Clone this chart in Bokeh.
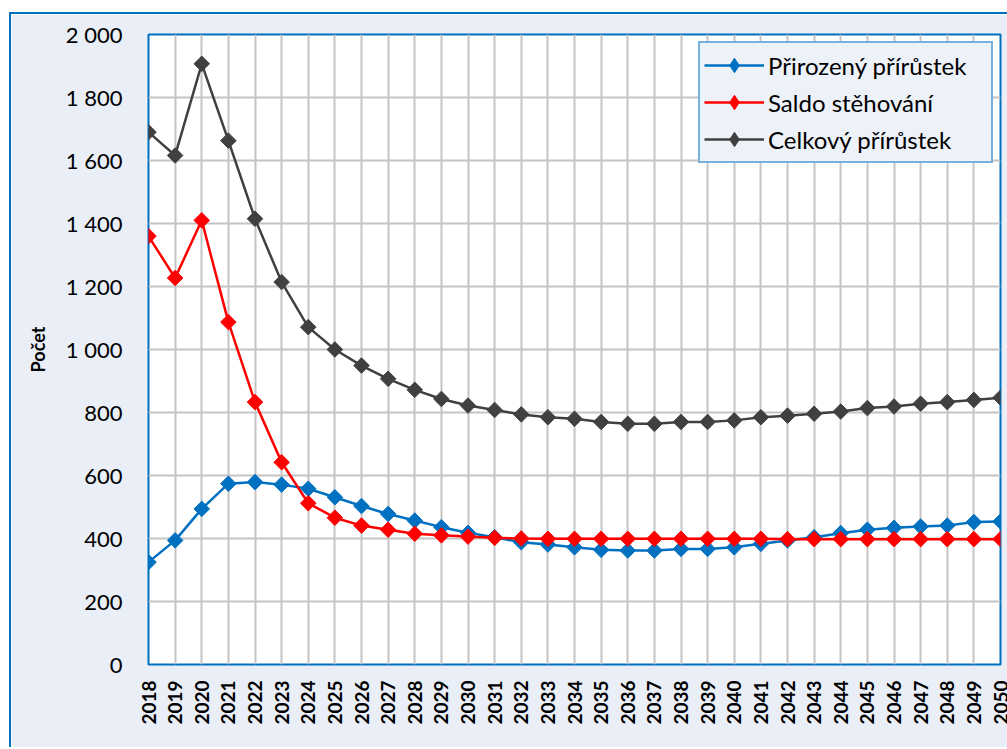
from math import pi
from bokeh.plotting import figure
from bokeh.models import FixedTicker, Range1d, Legend, LegendItem
from bokeh.embed import file_html
from bokeh.resources import INLINE

years = list(range(2018, 2051))
prirozeny = [325, 394, 494, 574, 579, 571, 558, 531, 503, 478,
             457, 436, 418, 404, 388, 381, 372, 364, 362, 362,
             367, 367, 372, 383, 394, 404, 417, 428, 434, 438,
             441, 452, 454]
saldo = [1360, 1227, 1410, 1087, 833, 642, 512, 466, 441, 428,
         415, 410, 406, 402, 400, 399, 399, 399, 399, 399,
         399, 399, 399, 399, 398, 398, 398, 398, 398, 398,
         398, 398, 398]
celkovy = [1690, 1616, 1907, 1663, 1415, 1214, 1071, 1000, 949, 907,
           872, 843, 822, 808, 794, 785, 780, 770, 764, 764,
           770, 770, 775, 785, 790, 796, 803, 814, 819, 828,
           833, 840, 847]
series_names = ["Přirozený přírůstek", "Saldo stěhování", "Celkový přírůstek"]
y_ticks = [0, 200, 400, 600, 800, 1000, 1200, 1400, 1600, 1800, 2000]
y_labels = ["0", "200", "400", "600", "800", "1 000", "1 200", "1 400", "1 600", "1 800", "2 000"]
y_title = "Počet"

BLUE = "#0070C0"
FONT = "Lato"

p = figure(frame_width=852, frame_height=630,
           min_border_left=137, min_border_right=7, min_border_top=20, min_border_bottom=83,
           x_range=Range1d(2018, 2050), y_range=Range1d(0, 2000),
           output_backend="svg", toolbar_location=None,
           background_fill_color="white", border_fill_color="#E9EEF7")
p.styles = {"margin-left": "9px", "margin-top": "12px",
            "border-left": "2px solid " + BLUE, "border-top": "2px solid " + BLUE}

p.outline_line_color = BLUE
p.outline_line_width = 2

p.xgrid.grid_line_color = "#C4C4C4"
p.xgrid.grid_line_width = 2
p.ygrid.grid_line_color = "#C4C4C4"
p.ygrid.grid_line_width = 2

p.xaxis.ticker = FixedTicker(ticks=years)
p.yaxis.ticker = FixedTicker(ticks=y_ticks)
p.yaxis.major_label_overrides = dict(zip(y_ticks, y_labels))
for ax in (p.xaxis[0], p.yaxis[0]):
    ax.axis_line_color = None
    ax.major_tick_line_color = None
    ax.minor_tick_line_color = None
    ax.major_tick_out = 0
    ax.major_tick_in = 0
    ax.major_label_text_color = "black"
    ax.major_label_text_font = FONT
p.xaxis.major_label_orientation = pi / 2
p.xaxis.major_label_text_font_size = "19px"
p.xaxis.major_label_text_font_style = "bold"
p.xaxis.major_label_standoff = 16
p.yaxis.major_label_text_font_size = "22px"
p.yaxis.major_label_standoff = 26
p.yaxis.axis_label = y_title
p.yaxis.axis_label_text_font = FONT
p.yaxis.axis_label_text_font_size = "18px"
p.yaxis.axis_label_text_font_style = "bold"
p.yaxis.axis_label_text_color = "black"
p.yaxis.axis_label_standoff = 14

colors = [BLUE, "#FF0000", "#404040"]
items = []
for name, vals, col in zip(series_names, [prirozeny, saldo, celkovy], colors):
    ln = p.line(years, vals, line_color=col, line_width=2.5)
    p.scatter(years, vals, marker="square", angle=pi / 4, size=11,
              fill_color=col, line_color=col)
    # legend sample marker: hidden in the plot, drawn only in the legend
    lg_mark = p.scatter(years, vals, marker="diamond", size=16,
                        fill_color=col, line_color=col, visible=False)
    items.append(LegendItem(label=name, renderers=[ln, lg_mark]))

legend = Legend(items=items, location="top_right")
legend.border_line_color = BLUE
legend.border_line_width = 2
legend.background_fill_color = "#EDF1F8"
legend.background_fill_alpha = 1
legend.label_text_font = FONT
legend.label_text_font_size = "24px"
legend.label_text_color = "black"
legend.glyph_width = 60
legend.glyph_height = 36
legend.label_height = 36
legend.label_width = 219
legend.spacing = 1
legend.padding = 4
legend.margin = 7
legend.label_standoff = 4
p.add_layout(legend)

open("out.html", "w").write(file_html(p, INLINE))
